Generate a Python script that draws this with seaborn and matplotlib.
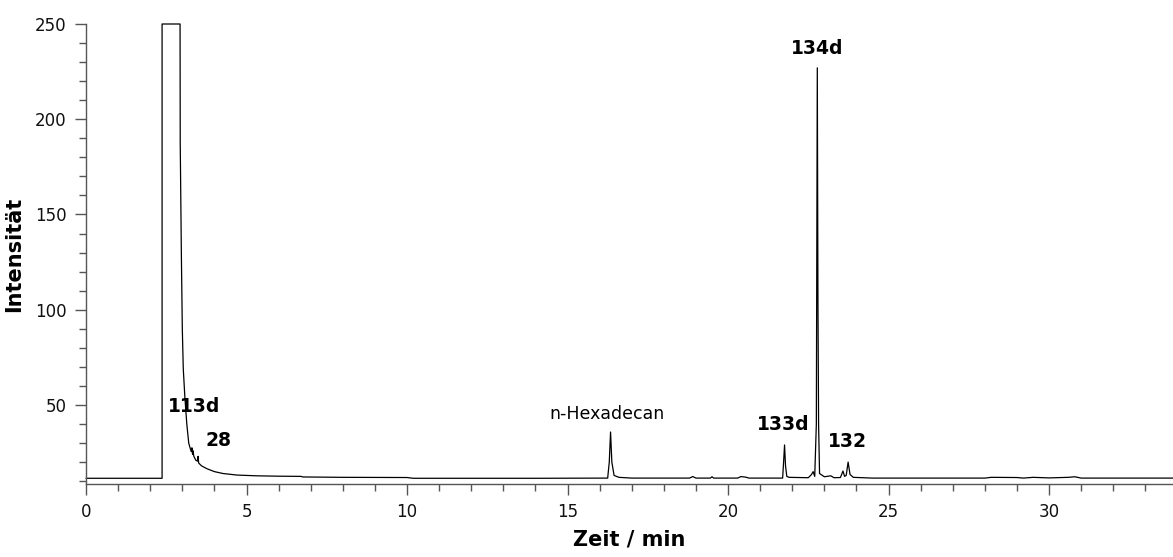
# Chromatogramm: Intensität über Retentionszeit mit markierten Peaks

import pandas as pd
import seaborn as sns
import matplotlib.pyplot as plt
from matplotlib.ticker import MultipleLocator

zeit = [0.0, 2.37, 2.37, 2.37, 2.93, 2.935, 2.97, 3.00, 3.03, 3.08, 3.14, 3.20,
        3.25, 3.28, 3.30, 3.32, 3.33, 3.36, 3.42, 3.47, 3.49, 3.51, 3.60, 3.77,
        4.00, 4.27, 4.70, 5.30, 6.00, 6.70, 6.75, 8.00, 10.0, 10.2, 14.0,
        16.25, 16.30, 16.34, 16.38, 16.45, 16.60, 17.0, 18.8, 18.9, 19.0,
        19.45, 19.5, 19.55, 20.3, 20.4, 20.55, 20.65, 21.70, 21.73, 21.76,
        21.79, 21.83, 21.9, 22.5, 22.6, 22.65, 22.7, 22.75, 22.78, 22.80,
        22.82, 22.85, 23.0, 23.2, 23.3, 23.5, 23.58, 23.63, 23.68, 23.74,
        23.8, 23.9, 24.5, 28.0, 28.2, 29.0, 29.2, 29.5, 30.0, 30.6, 30.8,
        31.0, 33.86]
intensitaet = [11.5, 11.5, 182, 250, 250, 188, 130, 90, 69, 54, 40, 30,
               27, 25.5, 27.5, 24, 26, 23, 21, 20.5, 23, 19.5, 18, 16.5,
               15, 14, 13.2, 12.8, 12.6, 12.5, 12.2, 12.0, 11.9, 11.5, 11.5,
               11.6, 20, 35.8, 20, 13, 12, 11.6, 11.6, 12.4, 11.6,
               11.6, 12.3, 11.6, 11.6, 12.4, 12.1, 11.6, 11.6, 20, 29,
               18, 12.5, 12, 11.8, 13.5, 15, 12.5, 40, 227, 105,
               40, 14, 12.3, 12.8, 11.8, 11.9, 15.3, 12.5, 13, 20,
               13.5, 12, 11.6, 11.6, 12, 11.9, 11.6, 12.0, 11.7, 12.0, 12.3,
               11.6, 11.6]

# Peak-Beschriftungen
peak_namen = ["113d", "28", "n-Hexadecan", "133d", "134d", "132"]
peak_x = [3.36, 4.12, 16.23, 21.71, 22.77, 23.71]
peak_y = [49, 31.6, 45.3, 40, 237, 30.6]
peak_fett = [True, True, False, True, True, True]


def main():
    sns.set_style("ticks")
    plt.rcParams["font.family"] = ["DejaVu Sans"]

    daten = pd.DataFrame({"zeit": zeit, "intensitaet": intensitaet})

    fig = plt.figure(figsize=(11.73, 5.57), dpi=100)
    ax = fig.add_axes([86 / 1173, 1 - 484 / 557, 1 - 86 / 1173, 460 / 557])

    sns.lineplot(data=daten, x="zeit", y="intensitaet", estimator=None, sort=False,
                 color="black", linewidth=0.9, ax=ax, clip_on=False)

    for name, x, y, fett in zip(peak_namen, peak_x, peak_y, peak_fett):
        ax.text(x, y, name, ha="center", va="center",
                fontsize=13.5 if fett else 12.5,
                fontweight="bold" if fett else "normal", color="black")

    ax.set_xlim(0, 33.86)
    ax.set_ylim(8.5, 250)
    ax.xaxis.set_major_locator(MultipleLocator(5))
    ax.xaxis.set_minor_locator(MultipleLocator(1))
    ax.yaxis.set_minor_locator(MultipleLocator(10))
    ax.set_yticks([50, 100, 150, 200, 250])

    ax.tick_params(axis="both", which="major", direction="out", length=8, width=1,
                   color="#555555", labelsize=12, labelcolor="#111111", pad=6)
    ax.tick_params(axis="both", which="minor", direction="out", length=5, width=1,
                   color="#555555")

    sns.despine(ax=ax)
    for s in ["left", "bottom"]:
        ax.spines[s].set_color("#555555")
        ax.spines[s].set_linewidth(1)

    ax.set_xlabel("Zeit / min", fontsize=15, fontweight="bold", labelpad=6, color="black")
    ax.set_ylabel("Intensität", fontsize=15, fontweight="bold", labelpad=8, color="black")

    fig.savefig("out.png", dpi=100)


main()
